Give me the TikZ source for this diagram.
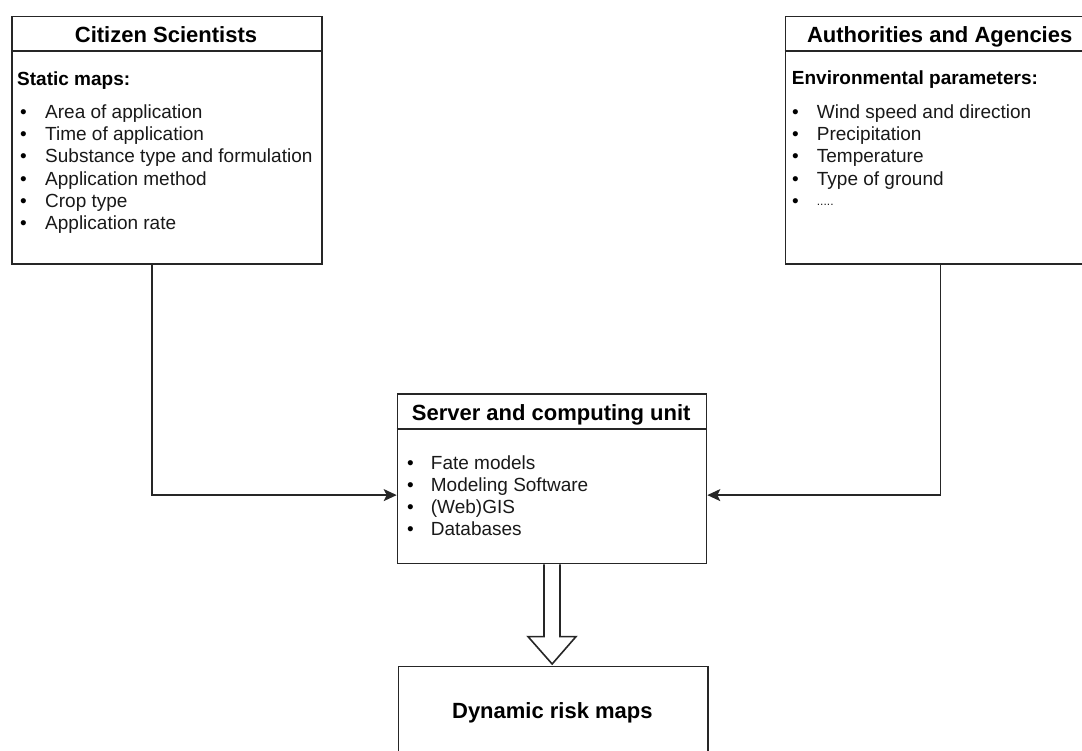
\documentclass[tikz,border=0pt]{standalone}
\usepackage{fontspec}
\setmainfont{Liberation Sans}
\usetikzlibrary{arrows.meta,calc}

\tikzset{
  panel/.style={draw=black!85, line width=1.6pt, fill=white, anchor=north west, inner sep=0pt},
  title/.style={anchor=base, inner sep=0pt, font=\fontsize{22}{26}\selectfont\bfseries},
  subtitle/.style={anchor=base west, inner sep=0pt, font=\fontsize{19}{22}\selectfont\bfseries},
  item/.style={anchor=base west, inner sep=0pt, font=\fontsize{19}{22}\selectfont, text=black!90},
  dot/.style={anchor=base, inner sep=0pt, font=\fontsize{19}{22}\selectfont},
  rule/.style={draw=black!85, line width=1.6pt},
  conn/.style={draw=black!85, line width=1.6pt, -{Stealth[length=13pt, width=12pt, inset=3pt]}},
  barrow/.style={draw=black!85, line width=1.6pt, fill=white, line join=miter}
}

\begin{document}
\begin{tikzpicture}[x=1pt, y=-1pt]
\useasboundingbox (0,0) rectangle (1082,751);
\clip (0,0) rectangle (1082,751);

% ---- panels ----
\node[panel, minimum width=310pt, minimum height=247.3pt] (cs) at (11,15.7) {};
\node[panel, minimum width=310pt, minimum height=247.3pt] (aa) at (784.7,15.7) {};
\node[panel, minimum width=309pt, minimum height=169.4pt] (srv) at (396.7,393.3) {};
\node[panel, minimum width=309.3pt, minimum height=100pt] (dyn) at (397.7,665.7) {};

% header separators
\draw[rule] ($(cs.north west)+(0,35.3)$) -- ($(cs.north east)+(0,35.3)$);
\draw[rule] ($(aa.north west)+(0,35.3)$) -- ($(aa.north east)+(0,35.3)$);
\draw[rule] ($(srv.north west)+(0,35.7)$) -- ($(srv.north east)+(0,35.7)$);

% ---- Citizen Scientists ----
\node[title] (cst) at (166,43) {Citizen Scientists};
\node[subtitle] (css) at (17,86) {Static maps:};
\foreach \t [count=\i] in {Area of application, Time of application,
  Substance type and formulation, Application method, Crop type, Application rate}{
  \node[dot] (csd\i) at (23.5,{118.3+22.3*(\i-1)}) {\textbullet};
  \node[item] (csi\i) at (45,{118.3+22.3*(\i-1)}) {\t};
}

% ---- Authorities and Agencies ----
\node[title] (aat) at (939.7,43) {Authorities and Agencies};
\node[subtitle] (aas) at (791.7,85) {Environmental parameters:};
\foreach \t [count=\i] in {Wind speed and direction, Precipitation, Temperature,
  Type of ground}{
  \node[dot] (aad\i) at (795.5,{118.3+22.3*(\i-1)}) {\textbullet};
  \node[item] (aai\i) at (816.7,{118.3+22.3*(\i-1)}) {\t};
}
\node[dot] (aad5) at (795.5,207.5) {\textbullet};
\node[item, font=\fontsize{12}{14}\selectfont] (aai5) at (816.7,205.5) {.....};

% ---- Server and computing unit ----
\node[title] (srvt) at (551.2,420.7) {Server and computing unit};
\foreach \t [count=\i] in {Fate models, Modeling Software, (Web)GIS, Databases}{
  \node[dot] (srvd\i) at (410.5,{469.8+22*(\i-1)}) {\textbullet};
  \node[item] (srvi\i) at (430.7,{469.8+22*(\i-1)}) {\t};
}

% ---- Dynamic risk maps ----
\node[title] (dynt) at (552.4,718) {Dynamic risk maps};

% ---- connectors ----
\draw[conn] ([xshift=-15pt]cs.south) |- ([yshift=-16.3pt]srv.west);
\draw[conn] (aa.south) |- ([yshift=-16.3pt]srv.east);

% block arrow from the server to the risk maps
\draw[barrow] ($(srv.south)+(-8,0)$) -- ($(srv.south)+(-8,72.3)$)
  -- ($(srv.south)+(-24,72.3)$) -- ($(dyn.north)+(-1,-1.7)$)
  -- ($(srv.south)+(24,72.3)$) -- ($(srv.south)+(8,72.3)$)
  -- ($(srv.south)+(8,0)$);
\end{tikzpicture}
\end{document}
